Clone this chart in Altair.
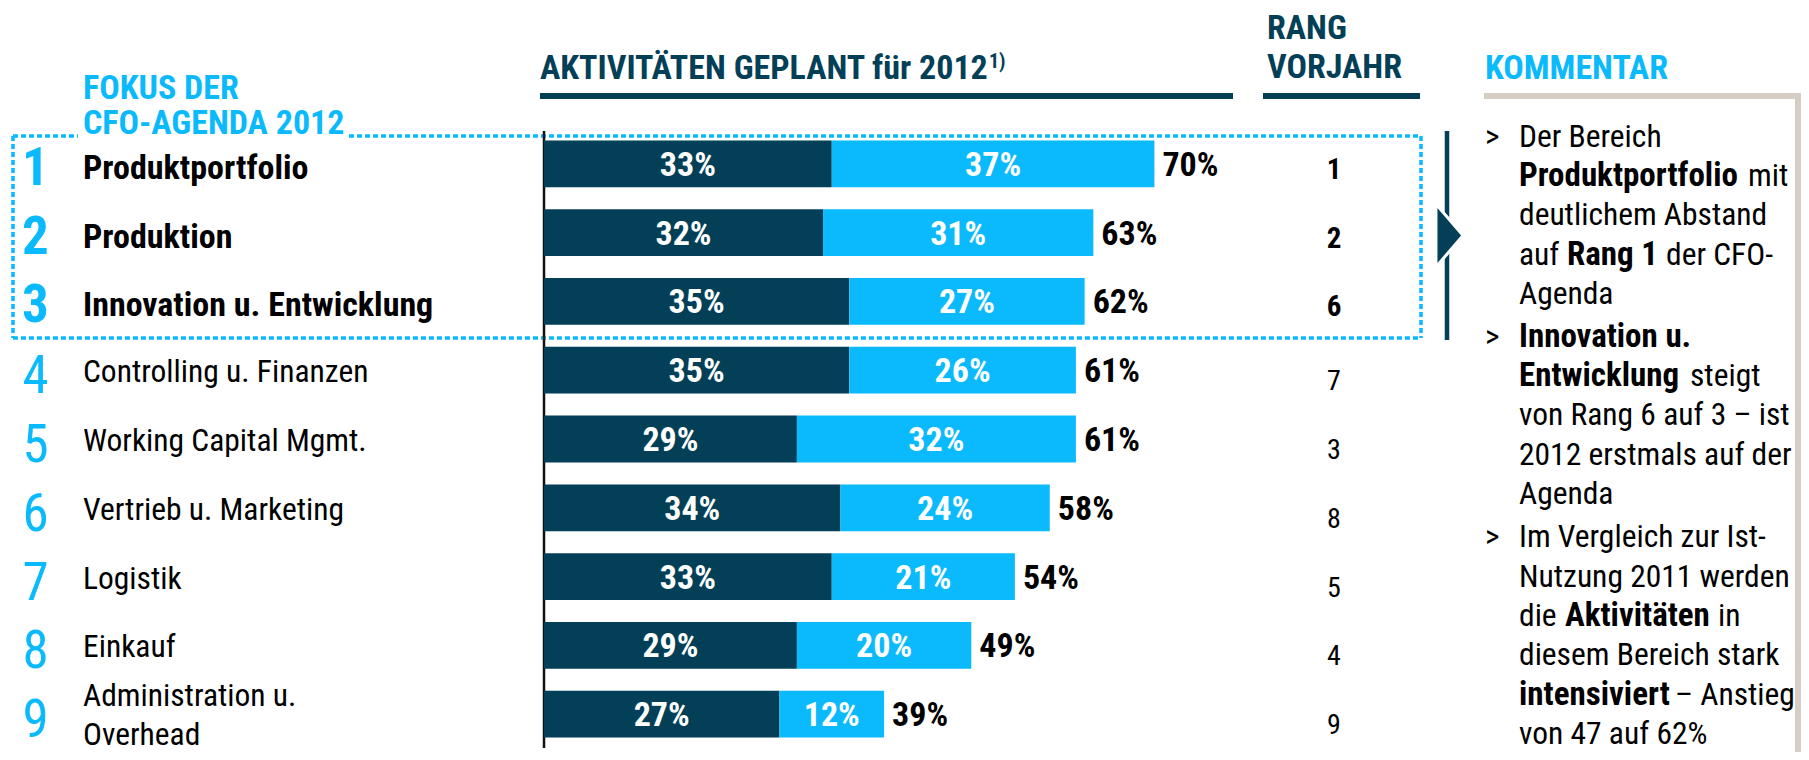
import altair as alt
import pandas as pd

# ---------------- data ----------------
categories = [
    "Produktportfolio", "Produktion", "Innovation u. Entwicklung",
    "Controlling u. Finanzen", "Working Capital Mgmt.", "Vertrieb u. Marketing",
    "Logistik", "Einkauf", "Administration u. Overhead",
]
share_dark = [33, 32, 35, 35, 29, 34, 33, 29, 27]
share_light = [37, 31, 27, 26, 32, 24, 21, 20, 12]
share_total = [70, 63, 62, 61, 61, 58, 54, 49, 39]
rank_prev_year = [1, 2, 6, 7, 3, 8, 5, 4, 9]
focus_count = 3

header_texts = ["FOKUS DER", "CFO-AGENDA 2012", "AKTIVITÄTEN GEPLANT für 2012", "1)",
                "RANG", "VORJAHR", "KOMMENTAR"]

comment_segments = [  # (line, text, bold)
    (0, "Der Bereich", False),
    (1, "Produktportfolio", True), (1, "mit", False),
    (2, "deutlichem Abstand", False),
    (3, "auf", False), (3, "Rang 1", True), (3, "der CFO-", False),
    (4, "Agenda", False),
    (5, "Innovation u.", True),
    (6, "Entwicklung", True), (6, "steigt", False),
    (7, "von Rang 6 auf 3 – ist", False),
    (8, "2012 erstmals auf der", False),
    (9, "Agenda", False),
    (10, "Im Vergleich zur Ist-", False),
    (11, "Nutzung 2011 werden", False),
    (12, "die", False), (12, "Aktivitäten", True), (12, "in", False),
    (13, "diesem Bereich stark", False),
    (14, "intensiviert", True), (14, "– Anstieg", False),
    (15, "von 47 auf 62%", False),
]
bullet_lines = [0, 5, 10]

# ---------------- layout / style ----------------
FONT = "Liberation Sans Narrow, Arial Narrow, Roboto Condensed, sans-serif"
DARK = "#033F57"
LIGHT = "#0ABAFC"
BEIGE = "#D6CDC4"
W, H = 1793, 744
OFF = 8  # page margin
REG = 31.5   # regular text size (regular face renders wider)
BOLD = 34
CBOLD = 33   # bold size inside the comment box


def px(v):
    return v - OFF


def py(v):
    return v - OFF


header_layout = [  # x, baseline, color, size
    (83, 99, LIGHT, 34), (83, 134, LIGHT, 34), (540, 79, DARK, 34), (989, 68, DARK, 20),
    (1267, 39, DARK, 34), (1267, 78, DARK, 34), (1485, 79, LIGHT, 34),
]
line_baselines = [147, 186, 225, 265, 304, 347, 386, 425, 465, 504, 547, 587, 626, 665, 705, 744]
seg_x = [1519, 1519, 1748, 1519, 1519, 1567, 1666, 1519, 1519, 1519, 1690, 1519, 1519, 1519,
         1519, 1519, 1519, 1565, 1718, 1519, 1519, 1675, 1519]

xs = alt.Scale(domain=[0, 100], range=[px(544), px(544) + 872], nice=False, zero=False)
ys = alt.Scale(domain=categories, range=[py(129.6), py(748.4)], paddingInner=0.32, paddingOuter=0.16)

df = pd.DataFrame({
    "cat": categories,
    "a": share_dark,
    "b": share_light,
    "total": share_total,
    "rang": rank_prev_year,
})
df["pos"] = range(1, len(df) + 1)
df["label"] = [c.replace(" u. Overhead", " u.\nOverhead") for c in categories]
df["multi"] = df["label"].str.contains("\n")
df["a_mid"] = df["a"] / 2
df["b_mid"] = df["a"] + df["b"] / 2
df["a_txt"] = df["a"].astype(str) + "%"
df["b_txt"] = df["b"].astype(str) + "%"
df["t_txt"] = df["total"].astype(str) + "%"

Y = alt.Y("cat:N", scale=ys, axis=None)
base = alt.Chart(df)

bar_dark = base.mark_bar(color=DARK).encode(x=alt.X("a:Q", scale=xs, axis=None), y=Y)
bar_light = base.mark_bar(color=LIGHT).encode(
    x=alt.X("a:Q", scale=xs, axis=None), x2="total:Q", y=Y)

txt_a = base.mark_text(font=FONT, fontSize=BOLD, fontWeight="bold", color="white",
                       baseline="alphabetic", dy=12).encode(
    x=alt.X("a_mid:Q", scale=xs, axis=None), y=Y, text="a_txt:N")
txt_b = base.mark_text(font=FONT, fontSize=BOLD, fontWeight="bold", color="white",
                       baseline="alphabetic", dy=12).encode(
    x=alt.X("b_mid:Q", scale=xs, axis=None), y=Y, text="b_txt:N")
txt_t = base.mark_text(font=FONT, fontSize=BOLD, fontWeight="bold", color="black",
                       align="left", baseline="alphabetic", dx=8, dy=12).encode(
    x=alt.X("total:Q", scale=xs, axis=None), y=Y, text="t_txt:N")

focus = alt.datum.pos <= focus_count
rest_single = (alt.datum.pos > focus_count) & (~alt.datum.multi)
rest_multi = (alt.datum.pos > focus_count) & alt.datum.multi
rest = alt.datum.pos > focus_count

num_b = base.transform_filter(focus).mark_text(
    font=FONT, fontSize=53, fontWeight="bold", color=LIGHT, align="center",
    baseline="alphabetic", dy=21).encode(x=alt.value(px(35.5)), y=Y, text="pos:N")
num_r = base.transform_filter(rest).mark_text(
    font=FONT, fontSize=53, fontWeight="normal", color=LIGHT, align="center",
    baseline="alphabetic", dy=23).encode(x=alt.value(px(35.5)), y=Y, text="pos:N")

lab_b = base.transform_filter(focus).mark_text(
    font=FONT, fontSize=BOLD, fontWeight="bold", color="black", align="left",
    baseline="alphabetic", dy=15).encode(x=alt.value(px(83)), y=Y, text="label:N")
lab_r = base.transform_filter(rest_single).mark_text(
    font=FONT, fontSize=REG, fontWeight="normal", color="black", align="left",
    baseline="alphabetic", dy=12).encode(x=alt.value(px(83)), y=Y, text="label:N")
lab_m = base.transform_filter(rest_multi).mark_text(
    font=FONT, fontSize=REG, fontWeight="normal", color="black", align="left",
    baseline="alphabetic", dy=-8, lineBreak="\n", lineHeight=39).encode(
    x=alt.value(px(83)), y=Y, text="label:N")

rang_b = base.transform_filter(focus).mark_text(
    font=FONT, fontSize=29, fontWeight="bold", color="black", align="center",
    baseline="alphabetic", dy=15).encode(x=alt.value(px(1334)), y=Y, text="rang:N")
rang_r = base.transform_filter(rest).mark_text(
    font=FONT, fontSize=28, fontWeight="normal", color="black", align="center",
    baseline="alphabetic", dy=20).encode(x=alt.value(px(1334)), y=Y, text="rang:N")

# headers
hdf = pd.DataFrame({
    "t": header_texts,
    "x": [px(h[0]) for h in header_layout],
    "y": [py(h[1]) for h in header_layout],
    "c": [h[2] for h in header_layout],
    "s": [h[3] for h in header_layout],
})
headers = alt.Chart(hdf).mark_text(font=FONT, fontWeight="bold", align="left",
                                   baseline="alphabetic").encode(
    x=alt.X("x:Q", scale=None), y=alt.Y("y:Q", scale=None),
    color=alt.Color("c:N", scale=None), size=alt.Size("s:Q", scale=None), text="t:N")

# solid lines
ldf = pd.DataFrame([
    (540, 1233, 96, 96, DARK, 6),
    (1263, 1420, 96, 96, DARK, 6),
    (1484, 1801, 96, 96, BEIGE, 6),
    (1798, 1798, 93, 760, BEIGE, 6),
    (544, 544, 131, 748, "#111111", 2.5),
    (1447, 1447, 131, 340, DARK, 4.5),
], columns=["x", "x2", "y", "y2", "c", "w"])
for col in ["x", "x2", "y", "y2"]:
    ldf[col] = ldf[col] - OFF
lines = alt.Chart(ldf).mark_rule().encode(
    x=alt.X("x:Q", scale=None), x2="x2:Q", y=alt.Y("y:Q", scale=None), y2="y2:Q",
    color=alt.Color("c:N", scale=None), strokeWidth=alt.StrokeWidth("w:Q", scale=None))

# dotted focus box
ddf = pd.DataFrame([
    (13, 78, 136, 136), (349, 1421, 136, 136), (13, 13, 136, 338),
    (13, 1421, 338, 338), (1421, 1421, 136, 338),
], columns=["x", "x2", "y", "y2"]) - OFF
dotted = alt.Chart(ddf).mark_rule(color=LIGHT, strokeWidth=3.5, strokeDash=[5, 3]).encode(
    x=alt.X("x:Q", scale=None), x2="x2:Q", y=alt.Y("y:Q", scale=None), y2="y2:Q")

# arrow triangle
tri = alt.Chart(pd.DataFrame({"k": [0]})).mark_point(
    shape="M -0.43 -1 L 0.43 0 L -0.43 1 Z", filled=True, fill=DARK, fillOpacity=1,
    stroke="white", strokeWidth=3, opacity=1, size=3969).encode(
    x=alt.value(px(1449.5)), y=alt.value(py(235.5)))

# comment text
cdf = pd.DataFrame(comment_segments, columns=["line", "t", "bold"])
cdf["x"] = [px(v) for v in seg_x]
cdf["y"] = [py(line_baselines[i]) for i in cdf["line"]]
bdf = pd.DataFrame({"t": [">"] * len(bullet_lines),
                    "x": [px(1485)] * len(bullet_lines),
                    "y": [py(line_baselines[i]) for i in bullet_lines]})


def ctext(data, weight, size):
    return alt.Chart(data).mark_text(font=FONT, fontSize=size, fontWeight=weight, color="black",
                                     align="left", baseline="alphabetic").encode(
        x=alt.X("x:Q", scale=None), y=alt.Y("y:Q", scale=None), text="t:N")


com_r = ctext(cdf[~cdf["bold"]][["t", "x", "y"]], "normal", REG)
com_b = ctext(cdf[cdf["bold"]][["t", "x", "y"]], "bold", CBOLD)
bul = ctext(bdf, "normal", REG)

chart = alt.layer(
    dotted, lines, bar_dark, bar_light, txt_a, txt_b, txt_t,
    num_b, num_r, lab_b, lab_r, lab_m, rang_b, rang_r, headers, tri, com_r, com_b, bul,
).properties(
    width=W, height=H, padding=0,
    autosize=alt.AutoSizeParams(type="none"),
    background="white",
).configure_view(strokeWidth=0)

chart.save("out.html", embed_options={"renderer": "svg", "actions": False})
